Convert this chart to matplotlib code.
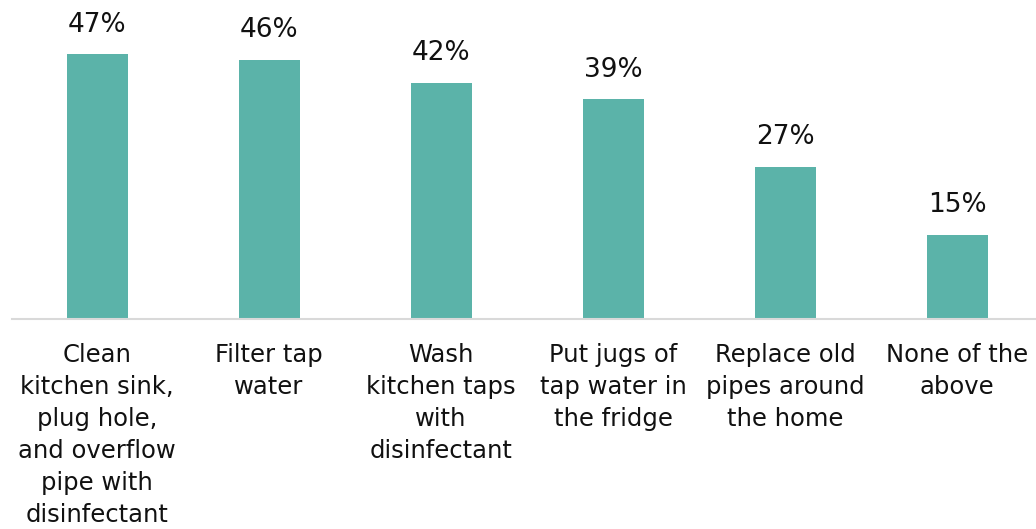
import matplotlib
matplotlib.use("Agg")
import matplotlib.pyplot as plt

categories = [
    "Clean\nkitchen sink,\nplug hole,\nand overflow\npipe with\ndisinfectant",
    "Filter tap\nwater",
    "Wash\nkitchen taps\nwith\ndisinfectant",
    "Put jugs of\ntap water in\nthe fridge",
    "Replace old\npipes around\nthe home",
    "None of the\nabove",
]
values = [47, 46, 42, 39, 27, 15]
value_labels = ["47%", "46%", "42%", "39%", "27%", "15%"]

bar_color = "#5BB3A9"
text_color = "#111111"
font = "DejaVu Sans"

W, H = 1036, 529
fig = plt.figure(figsize=(W / 100, H / 100), dpi=100)
base_px = 319
ax = fig.add_axes([12 / W, (H - base_px) / H, (1036 - 12) / W, base_px / H])

x = list(range(len(values)))
ax.bar(x, values, width=61 / 172, color=bar_color, zorder=2)

px_per_pct = 5.63
ax.set_ylim(0, base_px / px_per_pct)
ax.set_xlim((12 - 97) / 172, (1036 - 97) / 172)

for xi, v, lab in zip(x, values, value_labels):
    ax.annotate(lab, (xi, v), xytext=(0, 12), textcoords="offset points",
                ha="center", va="bottom", fontsize=19, color=text_color,
                family=font)

for spine in ["top", "right", "left"]:
    ax.spines[spine].set_visible(False)
ax.spines["bottom"].set_color("#D9D9D9")
ax.spines["bottom"].set_linewidth(1.5)
ax.set_yticks([])
ax.set_xticks(x)
ax.set_xticklabels(categories, fontsize=17.5, color=text_color, family=font,
                   linespacing=1.42)
ax.tick_params(axis="x", length=0, pad=17)

fig.savefig("out.png", dpi=100)
